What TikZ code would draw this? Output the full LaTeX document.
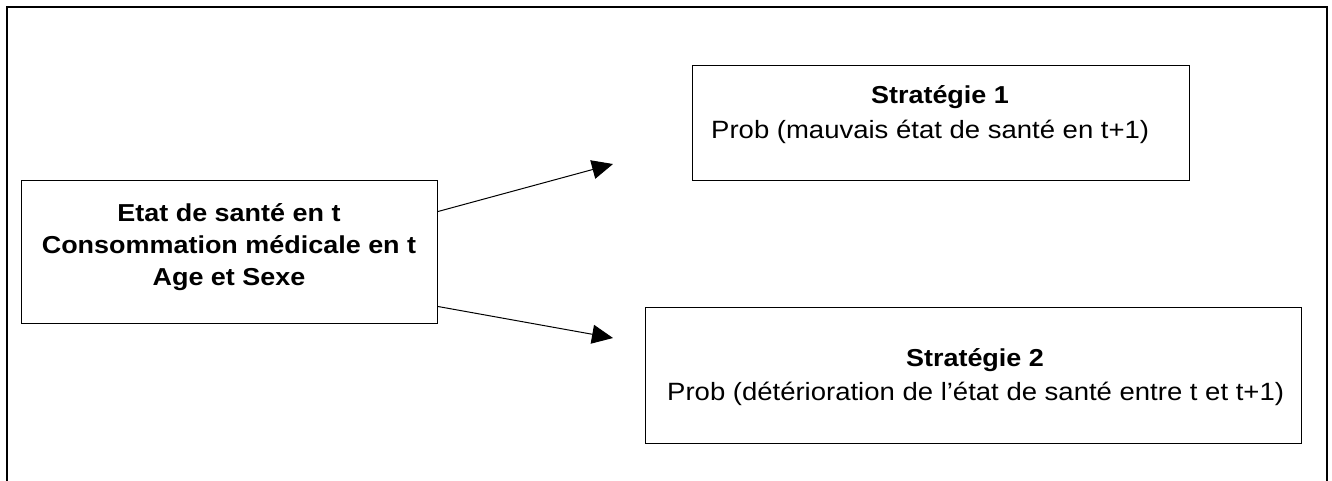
\documentclass[tikz,border=0pt]{standalone}
\usepackage{fontspec}
\setmainfont{Liberation Sans}[FakeStretch=1.1]
\usetikzlibrary{arrows.meta}
\tikzset{
  box/.style={draw=black, line width=1pt, inner sep=0pt, anchor=north west},
  txt/.style={inner sep=0pt, font=\fontsize{25}{29}\selectfont},
  btxt/.style={inner sep=0pt, font=\fontsize{24.5}{29}\selectfont\bfseries},
  conn/.style={line width=1pt, -{Triangle[length=21pt,width=19pt]}},
  frame/.style={line width=2pt, line cap=butt, line join=miter}
}
\begin{document}
\begin{tikzpicture}[x=1pt,y=-1pt]
\useasboundingbox (0,0) rectangle (1332,481);
\draw[frame] (7,482) -- (7,7) -- (1327,7) -- (1327,482);
% boxes
\node[box, minimum width=416pt, minimum height=143pt] (b1) at (21,180) {};
\node[box, minimum width=497pt, minimum height=115pt] (b2) at (692,65) {};
\node[box, minimum width=656pt, minimum height=136pt] (b3) at (645,307) {};
% left box text
\node[btxt, anchor=base] (l1) at (229,221) {Etat de santé en t};
\node[btxt, anchor=base] (l2) at (229,253) {Consommation médicale en t};
\node[btxt, anchor=base] (l3) at (229,285) {Age et Sexe};
% box 2 text
\node[btxt, anchor=base] (s1) at (940,104) {Stratégie 1};
\node[txt, anchor=base west] (p1) at (711,139) {Prob (mauvais état de santé en t+1)};
% box 3 text
\node[btxt, anchor=base] (s2) at (975,366) {Stratégie 2};
\node[txt, anchor=base west] (p2) at (667,400) {Prob (détérioration de l’état de santé entre t et t+1)};
% connectors
\coordinate (e1) at (613,164);
\coordinate (e2) at (613,338);
\draw[conn] ([yshift=40.5pt]b1.east) -- (e1);
\draw[conn] ([yshift=-54.5pt]b1.east) -- (e2);
\end{tikzpicture}
\end{document}
